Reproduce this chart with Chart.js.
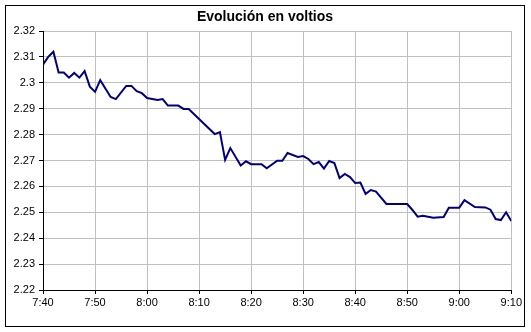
<!DOCTYPE html>
<html>
<head>
<meta charset="utf-8">
<script src="https://cdn.jsdelivr.net/npm/chart.js@4.4.1/dist/chart.umd.min.js"></script>
<style>
  html, body { margin: 0; padding: 0; background: #fff; }
  #frame {
    position: absolute;
    left: 5px; top: 5px;
    width: 518px; height: 320px;
    border: 1px solid #000;
  }
  canvas { display: block; }
</style>
</head>
<body>
<div id="frame"><canvas id="voltChart" width="518" height="320"></canvas></div>
<script>
// minutes after 7:40 and measured voltage
const minutes = [0, 1, 2, 3, 4, 5, 6, 7, 8, 9, 10, 11, 13, 14, 16, 17, 18, 19, 20, 22,
  23, 24, 26, 27, 28, 33, 34, 35, 36, 38, 39, 40, 42, 43, 45, 46, 47, 49, 50, 51,
  52, 53, 54, 55, 56, 57, 58, 59, 60, 61, 62, 63, 64, 66, 70, 71, 72, 73, 75, 77,
  78, 80, 81, 83, 85, 86, 87, 88, 89, 90];
const voltage = [2.307, 2.310, 2.312, 2.304, 2.304, 2.302, 2.3038, 2.302, 2.3045, 2.2985,
  2.2965, 2.301, 2.2945, 2.2937, 2.2988, 2.2988, 2.2968, 2.296, 2.2941, 2.2934,
  2.2937, 2.2912, 2.2912, 2.2899, 2.2899, 2.2802, 2.281, 2.2702, 2.2748, 2.2681,
  2.2697, 2.2686, 2.2686, 2.267, 2.2699, 2.2699, 2.2729, 2.2714, 2.2717, 2.2706,
  2.2686, 2.2694, 2.2669, 2.2698, 2.269, 2.2632, 2.2648, 2.2636, 2.2613, 2.2615,
  2.2571, 2.2586, 2.258, 2.2532, 2.2532, 2.2509, 2.2483, 2.2487, 2.2479, 2.2482,
  2.2518, 2.2518, 2.2547, 2.252, 2.2519, 2.251, 2.2474, 2.247, 2.250, 2.2466];
const timeLabels = ['7:40', '7:50', '8:00', '8:10', '8:20', '8:30', '8:40', '8:50', '9:00', '9:10'];

const font = 'Liberation Sans, Arial, sans-serif';

new Chart(document.getElementById('voltChart'), {
  type: 'line',
  data: {
    datasets: [{
      data: minutes.map((m, i) => ({ x: m, y: voltage[i] })),
      borderColor: '#000080',
      borderWidth: 2,
      pointRadius: 0,
      tension: 0,
      fill: false
    }]
  },
  options: {
    responsive: false,
    animation: false,
    devicePixelRatio: 1,
    layout: { padding: 0 },
    plugins: {
      legend: { display: false },
      tooltip: { enabled: false },
      title: {
        display: true,
        text: 'Evolución en voltios',
        color: '#000',
        font: { family: font, size: 14, weight: 'bold' },
        padding: { top: 3, bottom: 5.2 }
      }
    },
    scales: {
      x: {
        type: 'linear',
        min: 0,
        max: 90,
        grid: { color: '#c0c0c0', tickColor: '#000', tickLength: 4 },
        border: { color: '#000', width: 1 },
        ticks: {
          stepSize: 10,
          color: '#000',
          padding: 2,
          maxRotation: 0,
          font: { family: font, size: 11 },
          callback: v => timeLabels[Math.round(v / 10)]
        },
        afterFit: s => { s.height = 36; }
      },
      y: {
        min: 2.22,
        max: 2.32,
        grid: { color: '#c0c0c0', tickColor: '#000', tickLength: 4 },
        border: { color: '#000', width: 1 },
        ticks: {
          stepSize: 0.01,
          color: '#000',
          padding: 4,
          font: { family: font, size: 11 },
          callback: v => String(Number(v.toFixed(2)))
        },
        afterFit: s => { s.width = 37; }
      },
      // empty strip on the right, keeps the title centred on the whole frame
      yRight: {
        position: 'right',
        grid: { display: false },
        border: { display: false },
        ticks: { display: false },
        afterFit: s => { s.width = 12; }
      }
    }
  }
});
</script>
</body>
</html>
